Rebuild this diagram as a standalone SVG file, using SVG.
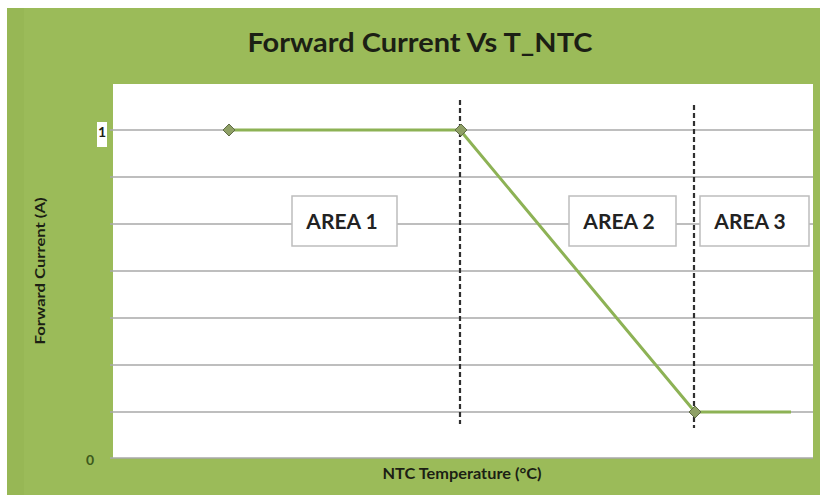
<svg xmlns="http://www.w3.org/2000/svg" width="820" height="495" viewBox="0 0 820 495">
  <style>
    .t { font-family: Lato, "Liberation Sans", sans-serif; font-weight: bold; fill: #1c1f14; }
    .grid { stroke: #a8a8a8; stroke-width: 1.5; }
    .area rect { fill: #ffffff; stroke: #bdbdbd; stroke-width: 1.5; }
    .area text { font-family: Lato, "Liberation Sans", sans-serif; font-weight: bold; font-size: 21px; fill: #222222; text-anchor: middle; }
    .dash { stroke: #2f2f2f; stroke-width: 2.2; stroke-dasharray: 5 3; fill: none; }
    .series { stroke: #8db255; stroke-width: 3; fill: none; stroke-linejoin: round; }
    .mk { fill: #8fa066; stroke: #5f6b45; stroke-width: 1; }
  </style>
  <rect x="0" y="0" width="820" height="495" fill="#ffffff"/>
  <rect x="7" y="8" width="813" height="487" fill="#9bbb59"/>
  <rect x="7" y="8" width="17" height="487" fill="#97b755"/>
  <g id="title">
    <text class="t" x="420" y="52" font-size="27" text-anchor="middle" textLength="345" lengthAdjust="spacingAndGlyphs">Forward Current Vs T_NTC</text>
  </g>
  <g id="plot">
    <rect x="113" y="84" width="700" height="374" fill="#ffffff"/>
    <line class="grid" x1="110" y1="130" x2="813" y2="130"/>
    <line class="grid" x1="110" y1="177" x2="813" y2="177"/>
    <line class="grid" x1="110" y1="224" x2="813" y2="224"/>
    <line class="grid" x1="110" y1="271" x2="813" y2="271"/>
    <line class="grid" x1="110" y1="318" x2="813" y2="318"/>
    <line class="grid" x1="110" y1="365" x2="813" y2="365"/>
    <line class="grid" x1="110" y1="412" x2="813" y2="412"/>
    <line class="grid" x1="110" y1="458" x2="813" y2="458"/>
  </g>
  <g id="axes">
    <rect x="97" y="122" width="10" height="25" fill="#ffffff"/>
    <text class="t" x="102" y="137" font-size="14" text-anchor="middle">1</text>
    <text class="t" x="90" y="465" font-size="14" text-anchor="middle" fill="#3d5a1c" style="fill:#3d5a1c">0</text>
    <text class="t" x="462" y="479" font-size="15" text-anchor="middle" textLength="159" lengthAdjust="spacingAndGlyphs">NTC Temperature (°C)</text>
    <text class="t" x="0" y="0" font-size="14" text-anchor="middle" transform="translate(45 271) rotate(-90)" textLength="147" lengthAdjust="spacingAndGlyphs">Forward Current (A)</text>
  </g>
  <g id="connectors">
    <line class="dash" x1="460" y1="100" x2="460" y2="424"/>
    <line class="dash" x1="694" y1="105" x2="694" y2="428"/>
    <polyline class="series" points="229,130 460,130 695,412 791,412"/>
    <path class="mk" d="M229 124 L235 130 L229 136 L223 130 Z"/>
    <path class="mk" d="M461 124 L467 130 L461 136 L455 130 Z"/>
    <path class="mk" d="M695 406 L701 412 L695 418 L689 412 Z"/>
  </g>
  <g id="area1" class="area">
    <rect x="292" y="196" width="105" height="50"/>
    <text x="342" y="229">AREA 1</text>
  </g>
  <g id="area2" class="area">
    <rect x="569" y="196" width="107" height="50"/>
    <text x="619" y="229">AREA 2</text>
  </g>
  <g id="area3" class="area">
    <rect x="700" y="196" width="109" height="50"/>
    <text x="750" y="229">AREA 3</text>
  </g>
</svg>
